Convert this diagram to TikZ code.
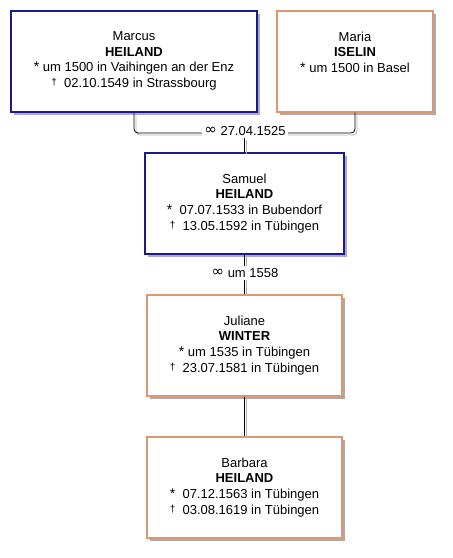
\documentclass[tikz,border=0pt]{standalone}
\usepackage{fontspec}
\setmainfont{Liberation Sans}
\newfontfamily\symfont{DejaVu Sans}
\usetikzlibrary{positioning,shadows}

\definecolor{mannblau}{RGB}{26,26,140}
\definecolor{fraurot}{RGB}{222,150,112}
\definecolor{blauschatten}{RGB}{170,170,206}
\definecolor{grauschatten}{RGB}{170,170,170}
\definecolor{linkgrau}{RGB}{178,178,178}

\newcommand{\geb}{{\fontsize{14}{14}\selectfont *}}
\newcommand{\gest}{\raisebox{2pt}{\fontsize{10}{10}\selectfont †}}
\newcommand{\verh}{\raisebox{0.5pt}{\symfont\fontsize{15}{15}\selectfont ∞}}

\begin{document}
\begin{tikzpicture}[x=1pt, y=-1pt,
    person/.style={draw, line width=1.1pt, fill=white, minimum height=101pt, inner sep=0pt},
    mann/.style={person, draw=mannblau,
      drop shadow={shadow xshift=3pt, shadow yshift=-3pt, fill=blauschatten, opacity=1}},
    frau/.style={person, draw=fraurot,
      drop shadow={shadow xshift=3pt, shadow yshift=-3pt, fill=grauschatten, opacity=1}},
    daten/.style={align=center, inner sep=0pt, font=\fontsize{13}{15.7}\selectfont},
    link/.style={line width=0.8pt, rounded corners=4pt,
      preaction={draw=linkgrau, line width=0.8pt, transform canvas={xshift=2pt, yshift=-2pt}}},
    heirat/.style={fill=white, inner sep=2pt, font=\fontsize{13}{15.7}\selectfont}]
  \useasboundingbox (0,0) rectangle (453,558);

  % person boxes
  \node[mann, minimum width=246pt] (marcus)  at (134,61.5)    {};
  \node[frau, minimum width=156pt] (maria)   at (355,61.5)    {};
  \node[mann, minimum width=199pt] (samuel)  at (244.5,203.5) {};
  \node[frau, minimum width=195pt] (juliane) at (244.5,345.5) {};
  \node[frau, minimum width=195pt] (barbara) at (244.5,487.5) {};

  % names and dates, top aligned in the boxes
  \node[daten, below=21pt of marcus.north] (marcus-t)
    {Marcus\\\textbf{HEILAND}\\\geb\ um 1500 in Vaihingen an der Enz\\\gest\ \ 02.10.1549 in Strassbourg};
  \node[daten, below=21pt of maria.north] (maria-t)
    {Maria\\\textbf{ISELIN}\\\geb\ um 1500 in Basel};
  \node[daten, below=21pt of samuel.north] (samuel-t)
    {Samuel\\\textbf{HEILAND}\\\geb\ \ 07.07.1533 in Bubendorf\\\gest\ \ 13.05.1592 in Tübingen};
  \node[daten, below=21pt of juliane.north] (juliane-t)
    {Juliane\\\textbf{WINTER}\\\geb\ um 1535 in Tübingen\\\gest\ \ 23.07.1581 in Tübingen};
  \node[daten, below=21pt of barbara.north] (barbara-t)
    {Barbara\\\textbf{HEILAND}\\\geb\ \ 07.12.1563 in Tübingen\\\gest\ \ 03.08.1619 in Tübingen};

  % marriage of Marcus and Maria
  \coordinate (h1) at (245,133);
  \draw[link] (marcus.south) -- (marcus.south |- h1) -- (maria.south |- h1) -- (maria.south);
  \node[heirat] (h1-l) at (245,131) {\verh\ 27.04.1525};
  \draw[link] (samuel.north |- h1-l.south) -- (samuel.north);

  % Samuel and Juliane
  \draw[link] (samuel.south) -- (juliane.north);
  \node[heirat] (h2-l) at (245,273) {\verh\ um 1558};

  % child
  \draw[link] (juliane.south) -- (barbara.north);
\end{tikzpicture}
\end{document}
